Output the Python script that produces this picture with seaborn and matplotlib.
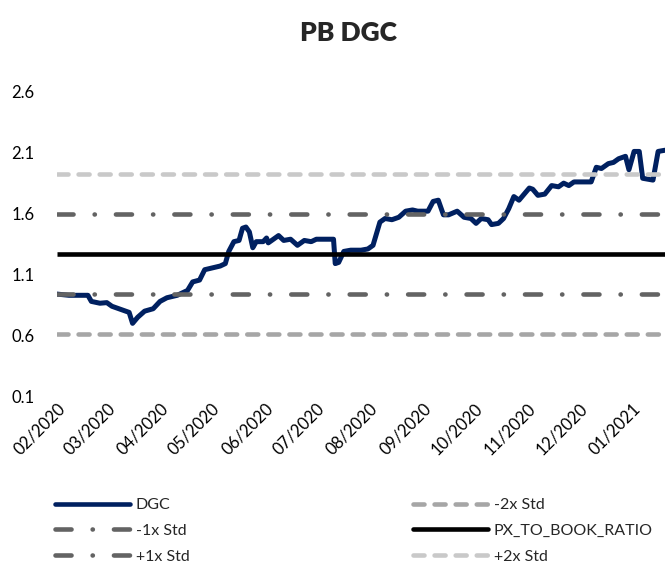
import matplotlib
matplotlib.use("Agg")
import matplotlib.pyplot as plt
import matplotlib.dates as mdates
import matplotlib.ticker as mticker
from matplotlib.lines import Line2D
import seaborn as sns
import pandas as pd

title = "PB DGC"

dates = [
    "2020-02-01", "2020-02-08", "2020-02-19", "2020-02-21", "2020-02-26", "2020-03-01",
    "2020-03-04", "2020-03-10", "2020-03-14", "2020-03-16", "2020-03-19", "2020-03-23",
    "2020-03-28", "2020-04-01", "2020-04-05", "2020-04-11", "2020-04-17", "2020-04-20",
    "2020-04-24", "2020-04-27", "2020-04-30", "2020-05-06", "2020-05-09", "2020-05-11",
    "2020-05-14", "2020-05-17", "2020-05-19", "2020-05-21", "2020-05-23", "2020-05-25",
    "2020-05-27", "2020-05-31", "2020-06-02", "2020-06-03", "2020-06-09", "2020-06-12",
    "2020-06-16", "2020-06-20", "2020-06-24", "2020-06-28", "2020-07-01", "2020-07-05",
    "2020-07-11", "2020-07-12", "2020-07-14", "2020-07-17", "2020-07-21", "2020-07-27",
    "2020-07-31", "2020-08-03", "2020-08-07", "2020-08-10", "2020-08-14", "2020-08-18",
    "2020-08-22", "2020-08-26", "2020-08-29", "2020-09-04", "2020-09-07", "2020-09-10",
    "2020-09-13", "2020-09-16", "2020-09-21", "2020-09-25", "2020-09-29", "2020-10-02",
    "2020-10-05", "2020-10-09", "2020-10-11", "2020-10-15", "2020-10-18", "2020-10-21",
    "2020-10-24", "2020-10-27", "2020-11-02", "2020-11-04", "2020-11-07", "2020-11-11",
    "2020-11-15", "2020-11-19", "2020-11-22", "2020-11-25", "2020-11-28", "2020-12-08",
    "2020-12-11", "2020-12-14", "2020-12-18", "2020-12-21", "2020-12-24", "2020-12-28",
    "2020-12-30", "2021-01-02", "2021-01-05", "2021-01-07", "2021-01-13", "2021-01-16",
    "2021-01-20",
]
dgc = [
    0.94, 0.93, 0.93, 0.88, 0.865, 0.87,
    0.84, 0.81, 0.79, 0.70, 0.75, 0.80,
    0.82, 0.88, 0.91, 0.93, 0.97, 1.04,
    1.055, 1.14, 1.15, 1.17, 1.19, 1.29,
    1.37, 1.38, 1.48, 1.49, 1.45, 1.32,
    1.37, 1.37, 1.40, 1.36, 1.42, 1.38,
    1.39, 1.34, 1.38, 1.37, 1.39, 1.39,
    1.39, 1.19, 1.20, 1.29, 1.30, 1.30,
    1.31, 1.34, 1.53, 1.56, 1.55, 1.57,
    1.62, 1.63, 1.62, 1.62, 1.70, 1.71,
    1.59, 1.59, 1.62, 1.57, 1.56, 1.52,
    1.56, 1.55, 1.51, 1.52, 1.56, 1.64,
    1.74, 1.71, 1.81, 1.80, 1.75, 1.76,
    1.83, 1.82, 1.85, 1.83, 1.86, 1.86,
    1.98, 1.97, 2.01, 2.02, 2.05, 2.07,
    1.96, 2.11, 2.11, 1.89, 1.875, 2.11,
    2.12,
]

px_to_book_ratio = 1.265
std_dev = 0.328

y_ticks = [0.1, 0.6, 1.1, 1.6, 2.1, 2.6]
x_tick_months = ["2020-02-01", "2020-03-01", "2020-04-01", "2020-05-01", "2020-06-01",
                 "2020-07-01", "2020-08-01", "2020-09-01", "2020-10-01", "2020-11-01",
                 "2020-12-01", "2021-01-01"]

df = pd.DataFrame({"date": pd.to_datetime(dates), "DGC": dgc})

sns.set_style("white")
plt.rcParams["font.family"] = ["Lato", "DejaVu Sans"]

W, H = 665, 562
fig = plt.figure(figsize=(W / 100, H / 100), dpi=100)
left, right, top, bottom = 57, 665, 91.7, 396.5
ax = fig.add_axes([left / W, 1 - bottom / H, (right - left) / W, (bottom - top) / H])

navy = "#002060"
dark_gray = "#636363"
mid_gray = "#A6A6A6"
light_gray = "#C9C9C9"
lw = 3.3
dashdot = (0, (3.5, 4.6, 0.05, 4.6))
dashed = (0, (2.4, 2.2))

sns.lineplot(data=df, x="date", y="DGC", ax=ax, color=navy, linewidth=lw + 0.3,
             zorder=2, legend=False)

styles = {
    "DGC": dict(color=navy, linestyle="-"),
    "-2x Std": dict(color=mid_gray, linestyle=dashed),
    "-1x Std": dict(color=dark_gray, linestyle=dashdot),
    "PX_TO_BOOK_RATIO": dict(color="black", linestyle="-"),
    "+1x Std": dict(color=dark_gray, linestyle=dashdot),
    "+2x Std": dict(color=light_gray, linestyle=dashed),
}
levels = {
    "-2x Std": px_to_book_ratio - 2 * std_dev,
    "-1x Std": px_to_book_ratio - 1 * std_dev,
    "PX_TO_BOOK_RATIO": px_to_book_ratio,
    "+1x Std": px_to_book_ratio + 1 * std_dev,
    "+2x Std": px_to_book_ratio + 2 * std_dev,
}
for name, val in levels.items():
    ax.axhline(val, linewidth=lw, dash_capstyle="round", solid_capstyle="butt",
               zorder=3, **styles[name])

ax.set_xlim(df["date"].iloc[0], df["date"].iloc[-1])
ax.set_ylim(y_ticks[0], y_ticks[-1])
ax.yaxis.set_major_locator(mticker.FixedLocator(y_ticks))
ax.set_yticklabels([f"{v:.1f}" for v in y_ticks])
ax.set_xticks(pd.to_datetime(x_tick_months))
ax.xaxis.set_major_formatter(mdates.DateFormatter("%m/%Y"))
ax.tick_params(axis="y", length=0, pad=16, labelsize=12, labelcolor="black")
ax.tick_params(axis="x", length=0, pad=3, labelsize=12, labelcolor="black")
for lab in ax.get_xticklabels():
    lab.set_rotation(45)
    lab.set_ha("right")
    lab.set_va("top")
    lab.set_rotation_mode("anchor")
for s in ax.spines.values():
    s.set_visible(False)
ax.set_xlabel("")
ax.set_ylabel("")
ax.grid(False)

fig.text(348 / W, 1 - 33 / H, title, ha="center", va="center",
         fontsize=19, fontweight="heavy")

order = ["DGC", "-1x Std", "+1x Std", "-2x Std", "PX_TO_BOOK_RATIO", "+2x Std"]
handles = [Line2D([], [], linewidth=lw, dash_capstyle="round", **styles[n]) for n in order]
fig.legend(handles, order, loc="upper left", bbox_to_anchor=(55 / W, 1 - 498 / H),
           ncol=2, frameon=False, fontsize=11.5, handlelength=4.7, handletextpad=0.35,
           columnspacing=14.0, labelspacing=0.72, borderpad=0, borderaxespad=0)

fig.savefig("out.png", dpi=100)
